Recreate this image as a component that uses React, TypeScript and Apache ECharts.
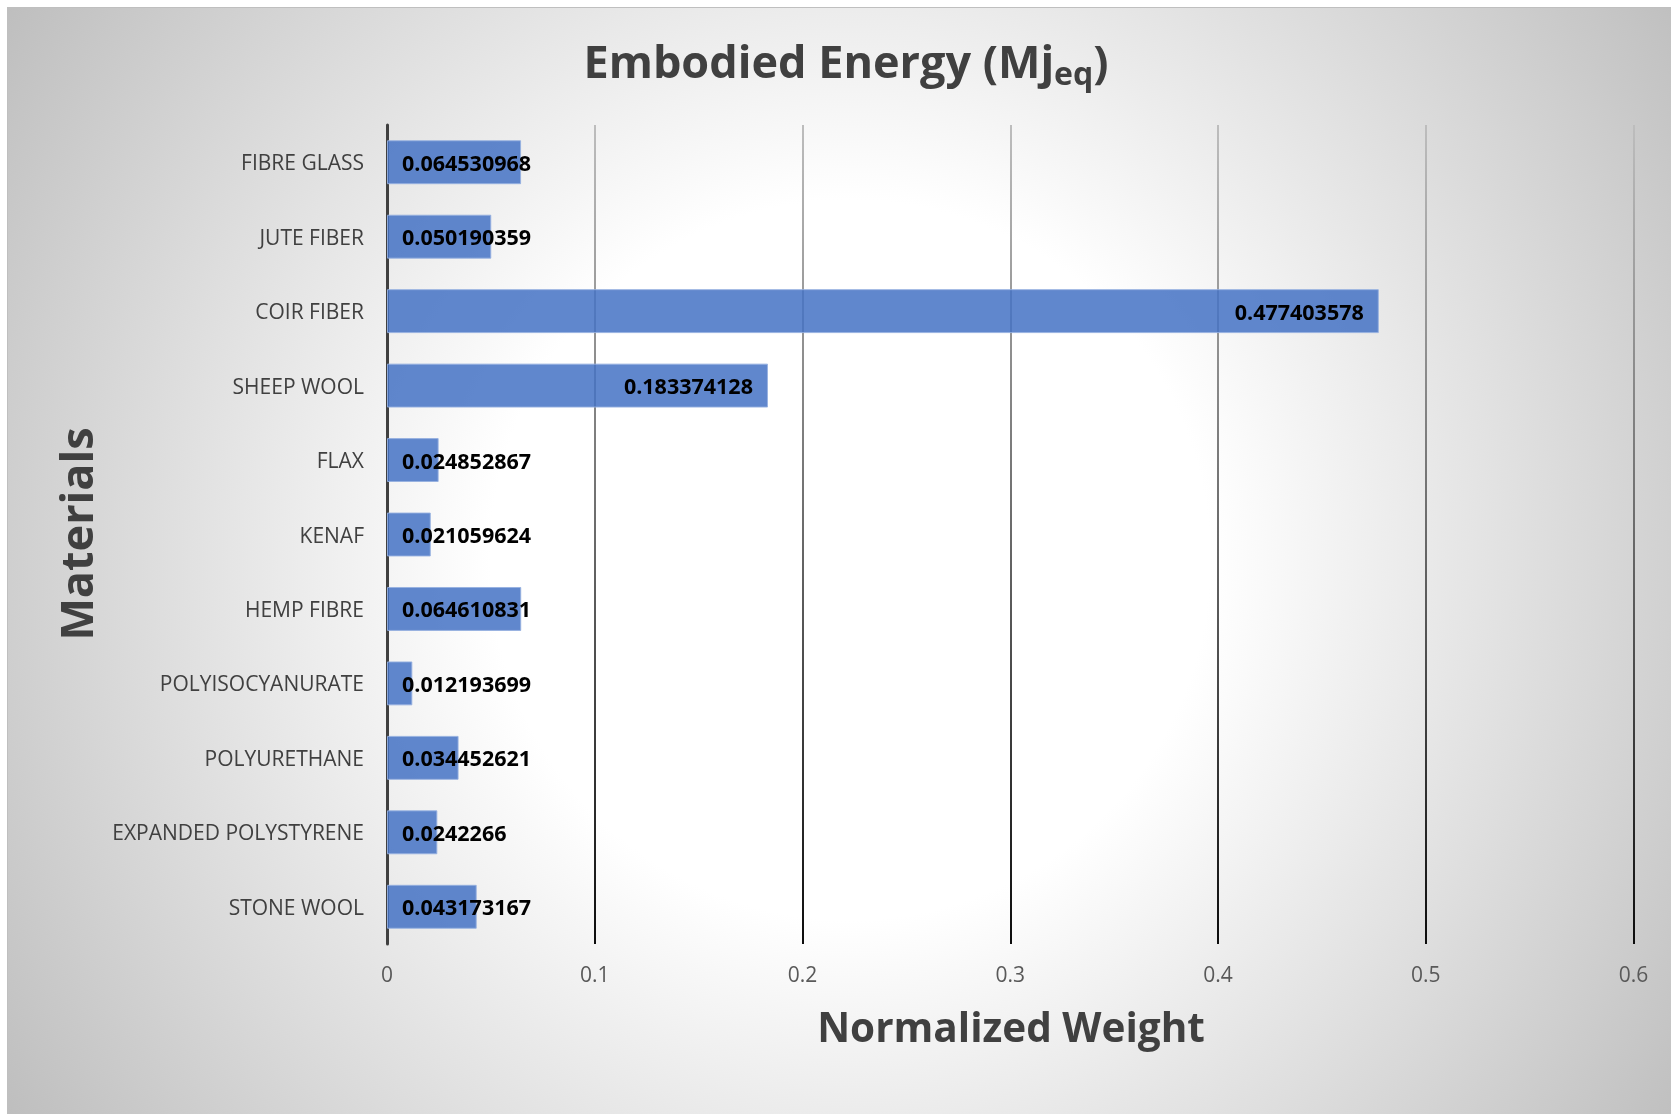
import React, { useEffect, useRef } from "react";
import * as echarts from "echarts";

const categories = [
  "FIBRE GLASS",
  "JUTE FIBER",
  "COIR FIBER",
  "SHEEP WOOL",
  "FLAX",
  "KENAF",
  "HEMP FIBRE",
  "POLYISOCYANURATE",
  "POLYURETHANE",
  "EXPANDED POLYSTYRENE",
  "STONE WOOL",
];

const values = [
  0.064530968, 0.050190359, 0.477403578, 0.183374128, 0.024852867, 0.021059624,
  0.064610831, 0.012193699, 0.034452621, 0.0242266, 0.043173167,
];

const axisMin = 0;
const axisMax = 0.6;
const axisStep = 0.1;

const titleMain = "Embodied Energy (Mj";
const titleSub = "eq";
const titleEnd = ")";
const xName = "Normalized Weight";
const yName = "Materials";

const FONT = "Open Sans";

const GRID_TOP = 117;
const GRID_BOTTOM = 172;
const CHART_H = 1108;

export default function App() {
  const ref = useRef<HTMLDivElement>(null);

  useEffect(() => {
    if (!ref.current) return;
    const chart = echarts.init(ref.current, null, { renderer: "svg" });
    chart.setOption({
      animation: false,
      textStyle: { fontFamily: FONT },
      grid: {
        left: 379,
        right: 38.5,
        top: GRID_TOP,
        bottom: GRID_BOTTOM,
        containLabel: false,
        outerBoundsMode: "none",
      },
      xAxis: {
        type: "value",
        min: axisMin,
        max: axisMax,
        interval: axisStep,
        axisLine: { show: false },
        axisTick: { show: false },
        axisLabel: { color: "#595959", fontFamily: FONT, fontSize: 21, margin: 19 },
        splitLine: {
          show: true,
          lineStyle: {
            width: 2,
            color: new echarts.graphic.LinearGradient(
              0,
              GRID_TOP,
              0,
              CHART_H - GRID_BOTTOM,
              [
                { offset: 0, color: "#bdbdbd" },
                { offset: 0.5, color: "#6a6a6a" },
                { offset: 1, color: "#0d0d0d" },
              ],
              true
            ),
          },
        },
      },
      yAxis: {
        type: "category",
        data: categories,
        inverse: true,
        axisLine: { show: true, lineStyle: { color: "#404040", width: 3 } },
        axisTick: { show: false },
        axisLabel: { color: "#404040", fontFamily: FONT, fontSize: 21, margin: 23, interval: 0 },
        splitLine: { show: false },
      },
      series: [
        {
          type: "bar",
          data: values.map((v) => ({
            value: v,
            label: { position: v > 0.1 ? "insideRight" : "insideLeft" },
          })),
          barCategoryGap: "41%",
          itemStyle: {
            color: "rgba(68,114,196,0.85)",
            borderColor: "rgba(150,176,224,0.9)",
            borderWidth: 1,
          },
          label: {
            show: true,
            distance: 15,
            color: "#000000",
            fontFamily: FONT,
            fontWeight: "bold",
            fontSize: 21.5,
            formatter: (p: any) => String(p.value),
          },
        },
      ],
      graphic: [
        {
          type: "text",
          x: 838,
          y: 24,
          style: {
            text: `{a|${titleMain}}{b|${titleSub}}{a|${titleEnd}}`,
            align: "center",
            verticalAlign: "top",
            rich: {
              a: { fontFamily: FONT, fontWeight: "bold", fontSize: 45, lineHeight: 56, fill: "#404040" },
              b: {
                fontFamily: FONT,
                fontWeight: "bold",
                fontSize: 32,
                lineHeight: 26,
                verticalAlign: "bottom",
                fill: "#404040",
              },
            },
          },
        },
        {
          type: "text",
          x: 1003,
          y: 1018,
          style: {
            text: xName,
            align: "center",
            verticalAlign: "middle",
            fontFamily: FONT,
            fontWeight: "bold",
            fontSize: 40.5,
            fill: "#404040",
          },
        },
        {
          type: "text",
          x: 67,
          y: 526,
          rotation: Math.PI / 2,
          style: {
            text: yName,
            align: "center",
            verticalAlign: "middle",
            fontFamily: FONT,
            fontWeight: "bold",
            fontSize: 45,
            fill: "#404040",
          },
        },
      ],
    });
    return () => chart.dispose();
  }, []);

  return (
    <div
      style={{
        position: "fixed",
        left: 7,
        top: 7,
        width: 1664,
        height: 1108,
        border: "1px solid #bfbfbf",
        background:
          "radial-gradient(circle 1010px at 842px 552px, #ffffff 0px, #ffffff 360px, #bebebe 1010px)",
      }}
    >
      <div ref={ref} style={{ width: "100%", height: "100%" }} />
    </div>
  );
}
